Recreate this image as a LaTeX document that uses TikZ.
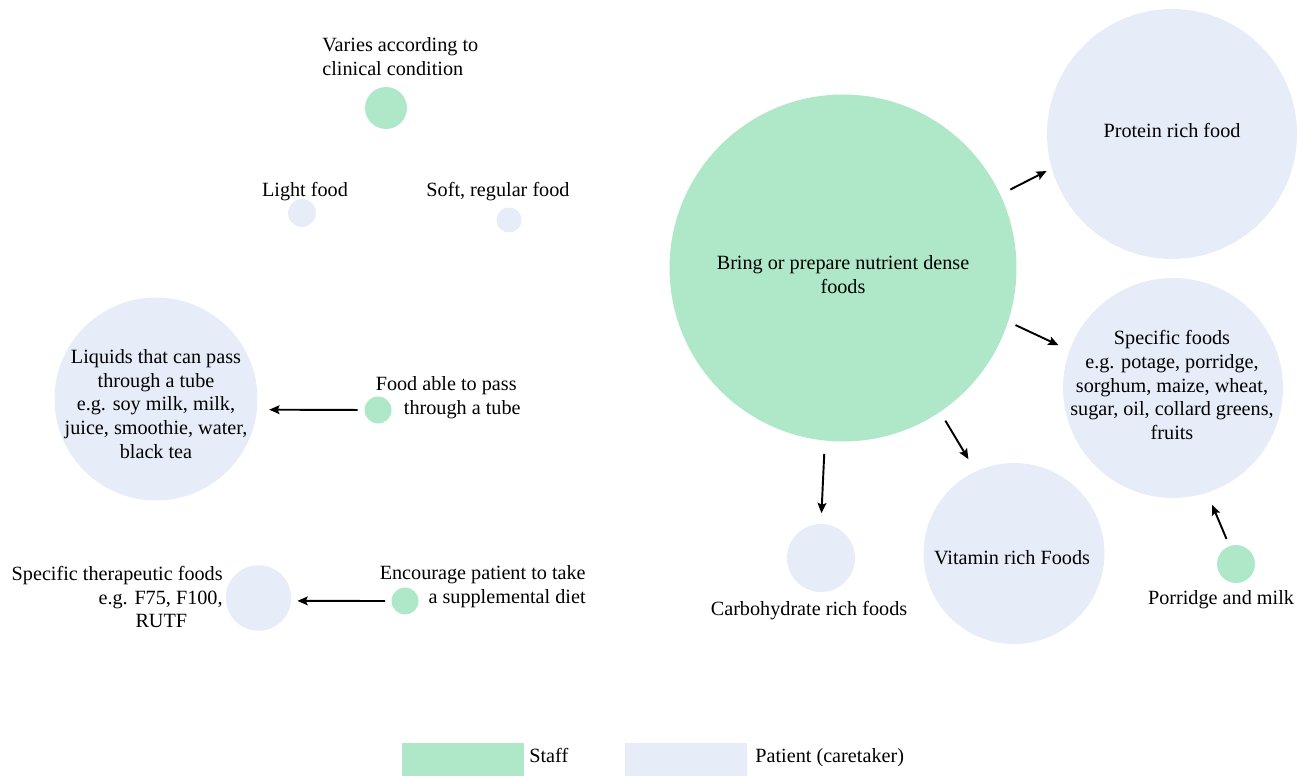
\documentclass[tikz,border=0pt]{standalone}
\usepackage{xcolor}
\usepackage{fontspec}
\setmainfont{Liberation Serif}
\usepackage{tikz}
\usetikzlibrary{arrows.meta, positioning}
\definecolor{staffgreen}{RGB}{174,232,200}
\definecolor{patientblue}{RGB}{230,236,248}

\begin{document}
\begin{tikzpicture}[
    x=0.02cm, y=-0.02cm,
    font=\fontsize{11.5}{13.6}\selectfont,
    >={Stealth[length=5.8pt, width=5pt, inset=1pt]},
    bubble/.style={circle, inner sep=0pt},
    staff/.style={bubble, fill=staffgreen, minimum size=#1},
    patient/.style={bubble, fill=patientblue, minimum size=#1},
    lbl/.style={inner sep=0pt, align=center},
    key/.style={inner sep=0pt, minimum width=2.43cm, minimum height=0.66cm, fill=#1},
    link/.style={->, line width=1.1pt}
]
\useasboundingbox (0,0) rectangle (1304,776);

\node[staff=0.84cm] (varies) at (386,108) {};
\node[lbl, anchor=west, align=left] (variestext) at (322,57) {Varies according to\\clinical condition};
\node[patient=0.56cm] (light) at (302,213) {};
\node[lbl, anchor=base] (lighttext) at (305,197) {Light food};
\node[patient=0.5cm] (soft) at (509,220) {};
\node[lbl, anchor=base] (softtext) at (498,197) {Soft, regular food};

\node[patient=4.06cm] (liquids) at (156,399) {};
\node[lbl] (liquidstext) at (156,404) {Liquids that can pass\\through a tube\\e.g. soy milk, milk,\\juice, smoothie, water,\\black tea};
\node[staff=0.54cm] (tube) at (378,410) {};
\node[lbl, anchor=east, align=right] (tubetext) at (521,398) {Food able to pass\hspace*{0.08cm}\\through a tube};

\node[patient=1.31cm] (therapy) at (258.5,598) {};
\node[lbl, anchor=east, align=right] (therapytext) at (223,597) {Specific therapeutic foods\\e.g. F75, F100,\\RUTF\hspace*{0.71cm}};
\node[staff=0.54cm] (supplement) at (405,601) {};
\node[lbl, anchor=east, align=right] (supplementtext) at (586,587) {Encourage patient to take\\a supplemental diet};

\node[staff=6.94cm] (dense) at (843,268) {};
\node[lbl] (densetext) at (843,275) {Bring or prepare nutrient dense\\foods};
\node[patient=5cm] (protein) at (1172,134) {};
\node[lbl] (proteintext) at (1172,130) {Protein rich food};
\node[patient=4.4cm] (specific) at (1173,388) {};
\node[lbl] (specifictext) at (1172,385) {Specific foods\\e.g. potage, porridge,\\sorghum, maize, wheat,\\sugar, oil, collard greens,\\fruits};
\node[patient=3.62cm] (vitamin) at (1014,553.5) {};
\node[lbl] (vitamintext) at (1012,557.5) {Vitamin rich Foods};
\node[patient=1.36cm] (carb) at (821,558) {};
\node[lbl, anchor=base] (carbtext) at (809,615) {Carbohydrate rich foods};
\node[staff=0.76cm] (porridge) at (1236,564) {};
\node[lbl, anchor=base] (porridgetext) at (1221,604) {Porridge and milk};

\draw[link, shorten <=0.22cm, shorten >=0.11cm] (dense.25) -- (protein.196);
\draw[link, shorten <=0.16cm, shorten >=0.24cm] (dense.-18) -- (specific.160);
\draw[link, shorten <=0.2cm, shorten >=0.28cm] (dense.-56) -- (vitamin.115);
\draw[link, shorten <=0.26cm, shorten >=0.21cm] (dense.-96) -- (carb.90);
\draw[link, shorten <=0.15cm, shorten >=0.26cm] (porridge.110) -- (specific.-72);
\draw[link, shorten <=0.13cm, shorten >=0.24cm] (tube.west) -- (liquids.-6);
\draw[link, shorten <=0.12cm, shorten >=0.12cm] (supplement.west) -- (therapy.-5);

\node[key=staffgreen] (staffkey) at (463,759.5) {};
\node[lbl, anchor=base west] (stafflabel) at (529,762) {Staff};
\node[key=patientblue] (patientkey) at (686,759.5) {};
\node[lbl, anchor=base west] (patientlabel) at (755,762) {Patient (caretaker)};

\end{tikzpicture}
\end{document}
